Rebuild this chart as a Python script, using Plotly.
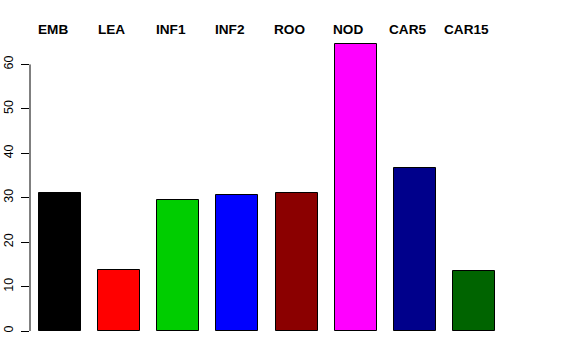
import plotly.graph_objects as go

categories = ["EMB", "LEA", "INF1", "INF2", "ROO", "NOD", "CAR5", "CAR15"]
values = [31.0, 13.7, 29.4, 30.5, 31.0, 64.7, 36.8, 13.6]
colors = ["#000000", "#FF0000", "#00CD00", "#0000FF", "#8B0000", "#FF00FF", "#00008B", "#006400"]
y_ticks = [0, 10, 20, 30, 40, 50, 60]

positions = list(range(len(categories)))

fig = go.Figure()
fig.add_trace(go.Bar(
    x=positions, y=values, width=0.71,
    marker=dict(color=colors, line=dict(color="#000000", width=1)),
    showlegend=False, hoverinfo="skip",
))

for p, c in zip(positions, categories):
    fig.add_annotation(x=p - 0.127, y=67.9, xref="x", yref="y", text="<b>" + c + "</b>",
                       showarrow=False, font=dict(size=13.6, color="black", family="Liberation Sans, Arial"),
                       xanchor="center", yanchor="middle")

fig.add_shape(type="line", xref="paper", yref="y", x0=0, x1=0, y0=0, y1=60,
              line=dict(color="black", width=1))

fig.update_layout(
    width=576, height=360,
    margin=dict(l=30, r=43.4, t=19.5, b=29, autoexpand=False),
    plot_bgcolor="white", paper_bgcolor="white",
    bargap=0,
    xaxis=dict(range=[-0.51, 8.0], showgrid=False, zeroline=False, showline=False,
               showticklabels=False, ticks="", automargin=False),
    yaxis=dict(range=[0, 70], tickvals=y_ticks, ticktext=[str(v) for v in y_ticks],
               ticks="outside", ticklen=8, tickcolor="black", tickwidth=1,
               tickangle=-90, showgrid=False, zeroline=False, showline=False, automargin=False,
               ticklabelstandoff=3,
               tickfont=dict(size=12.5, color="black", family="Liberation Sans, Arial")),
    font=dict(family="Liberation Sans, Arial"),
)

fig.write_html("out.html", config={"displayModeBar": False},
               post_script="document.body.style.margin='0';document.body.style.overflow='hidden';")
